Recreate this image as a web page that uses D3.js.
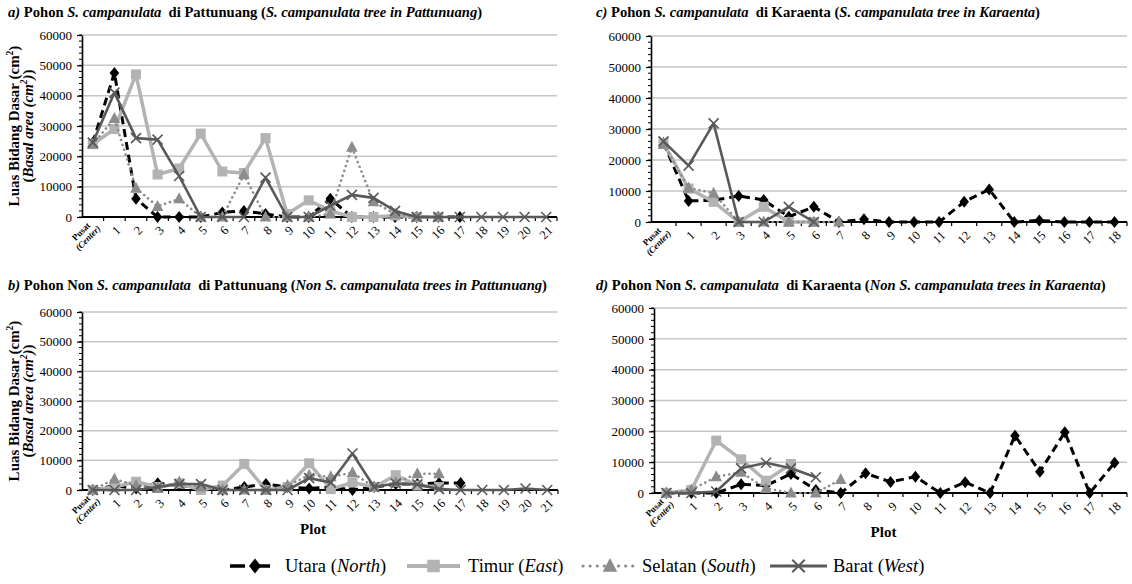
<!DOCTYPE html>
<html>
<head>
<meta charset="utf-8">
<script src="https://cdn.jsdelivr.net/npm/d3@7"></script>
<style>
  body { margin: 0; background: #fff; }
  svg { display: block; }
  text { font-family: "Liberation Serif", "Times New Roman", serif; fill: #000; }
</style>
</head>
<body>
<svg id="chart" width="1132" height="584"></svg>
<script>
// ---- categories ----
const plotsPattunuang = ["Pusat","1","2","3","4","5","6","7","8","9","10","11","12","13","14","15","16","17","18","19","20","21"];
const plotsKaraenta = ["Pusat","1","2","3","4","5","6","7","8","9","10","11","12","13","14","15","16","17","18"];
const yTicks = [0, 10000, 20000, 30000, 40000, 50000, 60000];
const seriesNames = ["Utara", "Timur", "Selatan", "Barat"];
const seriesEnglish = ["North", "East", "South", "West"];

// ---- a) S. campanulata, Pattunuang (basal area, cm²) ----
const aUtara   = [24500, 47500, 6000, 0, 0, 0, 1500, 2000, 1000, 0, 0, 6000, 0, 0, 0, 0, 0, 0];
const aTimur   = [24000, 29000, 47000, 14000, 16000, 27500, 15000, 14500, 26000, 1000, 5500, 2000, 0, 0, 500, 0, 0];
const aSelatan = [24000, 32500, 9500, 3500, 6000, 0, 0, 14000, 0, 0, 0, 1000, 23000, 5000, 1000, 0, 0];
const aBarat   = [24500, 41000, 26000, 25500, 13500, 0, 0, 0, 13000, 0, 0, 3700, 7300, 6300, 2000, 0, 0, 0, 0, 0, 0, 0];

// ---- b) Non S. campanulata, Pattunuang ----
const bUtara   = [0, 1500, 500, 2300, 1500, 1000, 0, 1000, 2000, 1000, 500, 1000, 0, 1000, 2000, 2000, 2400, 2400];
const bTimur   = [0, 1000, 2800, 1000, 2200, 0, 1500, 8800, 0, 1000, 9000, 300, 2500, 1000, 5000, 1500, 1000];
const bSelatan = [0, 3700, 1500, 500, 2700, 1000, 0, 0, 0, 1500, 5000, 4500, 5800, 1000, 2500, 5500, 5500];
const bBarat   = [0, 0, 0, 1000, 2000, 2000, 0, 0, 0, 0, 4000, 2500, 12300, 1000, 2200, 1900, 300, 0, 0, 0, 500, 0];

// ---- c) S. campanulata, Karaenta ----
const cUtara   = [25500, 6800, 7000, 8400, 7100, 1700, 4900, 0, 900, 0, 0, 0, 6500, 10500, 0, 500, 0, 0, 0];
const cTimur   = [25500, 10800, 6500, 0, 4900, 0, 0];
const cSelatan = [25000, 11000, 9300, 0, 0, 0, 0, 0];
const cBarat   = [26000, 18200, 31800, 0, 0, 4900, 0];

// ---- d) Non S. campanulata, Karaenta ----
const dUtara   = [0, 0, 0, 2800, 2400, 6200, 1000, 0, 6400, 3600, 5300, 0, 3500, 0, 18600, 6900, 19700, 0, 9800];
const dTimur   = [0, 1000, 17000, 10900, 4000, 9400];
const dSelatan = [0, 1000, 5300, 6700, 1500, 0, 0, 4400];
const dBarat   = [0, 0, 500, 8000, 9800, 8000, 5100];

// ---- series appearance ----
const styles = [
  { color: "#000000", width: 3,   dash: "8,5",   cap: "butt",  marker: "diamond"  },
  { color: "#b3b3b3", width: 3.5, dash: null,    cap: "butt",  marker: "square"   },
  { color: "#8c8c8c", width: 2.6, dash: "0.1,5", cap: "round", marker: "triangle" },
  { color: "#595959", width: 2.6, dash: null,    cap: "butt",  marker: "cross"    }
];

const svg = d3.select("#chart");

function drawMarker(sel, kind, color) {
  if (kind === "diamond") {
    sel.append("path").attr("d", "M0,-6L4.8,0L0,6L-4.8,0Z").attr("fill", color);
  } else if (kind === "square") {
    sel.append("rect").attr("x", -5).attr("y", -5).attr("width", 10).attr("height", 10).attr("fill", color);
  } else if (kind === "triangle") {
    sel.append("path").attr("d", "M0,-6.5L5.8,4.5L-5.8,4.5Z").attr("fill", color);
  } else {
    sel.append("path").attr("d", "M-5,-5L5,5M-5,5L5,-5").attr("stroke", color).attr("stroke-width", 1.6).attr("fill", "none");
  }
}

function addRich(textSel, parts) {
  parts.forEach(([t, it]) => {
    textSel.append("tspan").attr("font-style", it ? "italic" : "normal").text(t);
  });
}

function drawPanel(box, cats, seriesValues, titleParts, showYTitle, showXTitle) {
  const g = svg.append("g");
  const x = d3.scalePoint().domain(cats).range([box.left, box.right]).padding(0.5);
  const step = x.step();
  const y = d3.scaleLinear().domain([0, 60000]).range([box.bottom, box.top]);

  // title
  const tt = g.append("text")
    .attr("x", box.titleX).attr("y", box.titleY)
    .attr("font-size", 14.6).attr("font-weight", "bold")
    .attr("xml:space", "preserve");
  addRich(tt, titleParts);

  // horizontal gridlines
  g.selectAll("line.grid").data(yTicks.filter(v => v > 0)).join("line")
    .attr("class", "grid")
    .attr("x1", box.left).attr("x2", box.right)
    .attr("y1", d => y(d)).attr("y2", d => y(d))
    .attr("stroke", "#c6c6c6").attr("stroke-width", 1.5);

  // y axis with minor ticks
  const yAxis = d3.axisLeft(y).tickValues(yTicks).tickSize(5).tickSizeOuter(0).tickPadding(5).tickFormat(d3.format("d"));
  const ya = g.append("g").attr("transform", `translate(${box.left},0)`).call(yAxis);
  ya.select(".domain").attr("stroke", "#000").attr("stroke-width", 1.6);
  ya.selectAll(".tick line").attr("stroke", "#000").attr("stroke-width", 1.2);
  ya.selectAll(".tick text").attr("font-size", 13).attr("font-family", "Liberation Serif, serif").attr("fill", "#000");
  g.selectAll("line.minor").data(d3.range(0, 60001, 2000)).join("line")
    .attr("class", "minor")
    .attr("x1", box.left - 3).attr("x2", box.left)
    .attr("y1", d => y(d)).attr("y2", d => y(d))
    .attr("stroke", "#000").attr("stroke-width", 1);

  // x axis baseline and category boundary ticks
  g.append("line").attr("x1", box.left).attr("x2", box.right)
    .attr("y1", box.bottom).attr("y2", box.bottom)
    .attr("stroke", "#000").attr("stroke-width", 1.8);
  g.selectAll("line.xt").data(cats).join("line")
    .attr("class", "xt")
    .attr("x1", d => x(d) + step / 2).attr("x2", d => x(d) + step / 2)
    .attr("y1", box.bottom).attr("y2", box.bottom + 4)
    .attr("stroke", "#000").attr("stroke-width", 1.2);

  // x tick labels, rotated
  cats.forEach(c => {
    const cx = x(c);
    if (c === "Pusat") {
      const t = g.append("text")
        .attr("transform", `translate(${cx - 2},${box.bottom + 9}) rotate(-45)`)
        .attr("text-anchor", "end").attr("font-size", 9);
      t.append("tspan").attr("x", 0).attr("font-weight", "bold").text("Pusat");
      t.append("tspan").attr("x", 5).attr("dy", "1.05em").attr("font-style", "italic").attr("font-weight", "bold").text("(Center)");
    } else {
      g.append("text")
        .attr("transform", `translate(${cx + 4},${box.bottom + 11}) rotate(-45)`)
        .attr("text-anchor", "end").attr("dy", "0.35em")
        .attr("font-size", 12.5).text(c);
    }
  });

  // series lines + markers
  seriesValues.forEach((vals, si) => {
    const st = styles[si];
    const pts = vals.map((v, i) => [x(cats[i]), y(v)]);
    const p = g.append("path").attr("d", d3.line()(pts))
      .attr("fill", "none").attr("stroke", st.color).attr("stroke-width", st.width)
      .attr("stroke-linecap", st.cap).attr("stroke-linejoin", "round");
    if (st.dash) p.attr("stroke-dasharray", st.dash);
    pts.forEach(([px, py]) => {
      const m = g.append("g").attr("transform", `translate(${px},${py})`);
      drawMarker(m, st.marker, st.color);
    });
  });

  // y axis title
  if (showYTitle) {
    const cy = (box.top + box.bottom) / 2;
    const t1 = g.append("text").attr("transform", `translate(19,${cy}) rotate(-90)`)
      .attr("text-anchor", "middle").attr("font-size", 15).attr("font-weight", "bold");
    t1.append("tspan").text("Luas Bidang Dasar (cm");
    t1.append("tspan").attr("font-size", 9.5).attr("dy", -6).text("2");
    t1.append("tspan").attr("dy", 6).text(")");
    const t2 = g.append("text").attr("transform", `translate(33,${cy}) rotate(-90)`)
      .attr("text-anchor", "middle").attr("font-size", 15).attr("font-weight", "bold");
    t2.append("tspan").text("(");
    t2.append("tspan").attr("font-style", "italic").text("Basal area (cm");
    t2.append("tspan").attr("font-style", "italic").attr("font-size", 9.5).attr("dy", -6).text("2");
    t2.append("tspan").attr("font-style", "italic").attr("dy", 6).text(")");
    t2.append("tspan").text(")");
  }
  if (showXTitle) {
    g.append("text").attr("x", (box.left + box.right) / 2 - 7).attr("y", box.bottom + 44)
      .attr("text-anchor", "middle").attr("font-size", 15).attr("font-weight", "bold").text("Plot");
  }
}

drawPanel({ left: 82, right: 557, top: 35, bottom: 217, titleX: 8, titleY: 17 },
  plotsPattunuang, [aUtara, aTimur, aSelatan, aBarat],
  [["a)", 1], [" Pohon ", 0], ["S. campanulata", 1], ["  di Pattunuang (", 0], ["S. campanulata tree in Pattunuang", 1], [")", 0]],
  true, false);

drawPanel({ left: 82, right: 558, top: 312, bottom: 490, titleX: 8, titleY: 290 },
  plotsPattunuang, [bUtara, bTimur, bSelatan, bBarat],
  [["b)", 1], [" Pohon Non ", 0], ["S. campanulata", 1], ["  di Pattunuang (", 0], ["Non S. campanulata trees in Pattunuang", 1], [")", 0]],
  true, true);

drawPanel({ left: 651, right: 1127, top: 36, bottom: 222, titleX: 596, titleY: 17 },
  plotsKaraenta, [cUtara, cTimur, cSelatan, cBarat],
  [["c)", 1], [" Pohon ", 0], ["S. campanulata", 1], ["  di Karaenta (", 0], ["S. campanulata tree in Karaenta", 1], [")", 0]],
  false, false);

drawPanel({ left: 654, right: 1127, top: 308, bottom: 493, titleX: 596, titleY: 290 },
  plotsKaraenta, [dUtara, dTimur, dSelatan, dBarat],
  [["d)", 1], [" Pohon Non ", 0], ["S. campanulata", 1], ["  di Karaenta (", 0], ["Non S. campanulata trees in Karaenta", 1], [")", 0]],
  false, true);

// ---- legend ----
const legendLine = [[230, 280], [407, 460], [583, 637], [770, 827]];
const legendText = [285, 468, 642, 833];
const legendY = 566;
const leg = svg.append("g");
seriesNames.forEach((name, i) => {
  const st = styles[i];
  const [lx0, lx1] = legendLine[i];
  const l = leg.append("line").attr("x1", lx0).attr("x2", lx1)
    .attr("y1", legendY).attr("y2", legendY)
    .attr("stroke", st.color).attr("stroke-width", st.width + 0.5).attr("stroke-linecap", st.cap);
  if (st.dash) l.attr("stroke-dasharray", i === 0 ? "15,10" : "0.1,7");
  const m = leg.append("g").attr("transform", `translate(${(lx0 + lx1) / 2},${legendY}) scale(1.25)`);
  drawMarker(m, st.marker, st.color);
  const t = leg.append("text").attr("x", legendText[i]).attr("y", legendY + 6).attr("font-size", 18.5);
  t.append("tspan").text(name + " (");
  t.append("tspan").attr("font-style", "italic").text(seriesEnglish[i]);
  t.append("tspan").text(")");
});
</script>
</body>
</html>
